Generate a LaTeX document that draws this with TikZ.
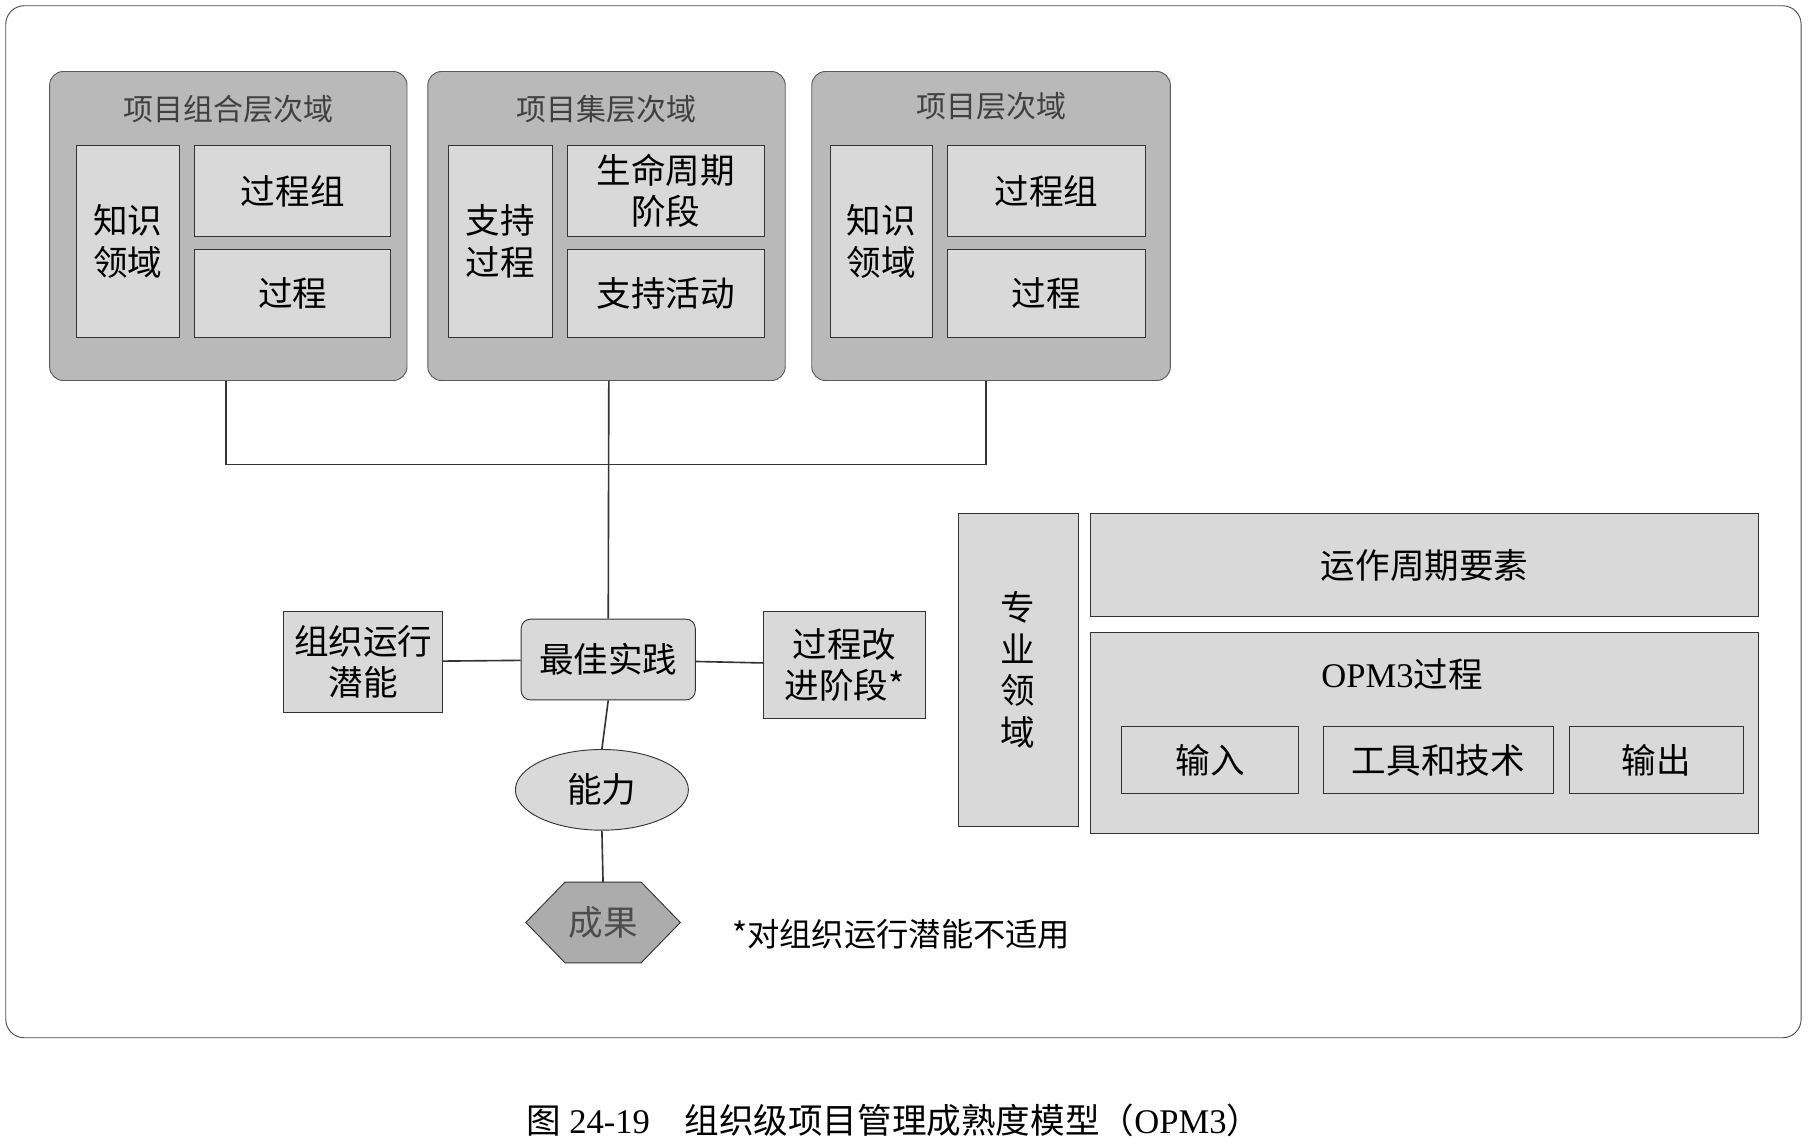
\documentclass[tikz,border=0pt]{standalone}
\usepackage{fontspec}
\setmainfont{Liberation Serif}
\newfontfamily\cjk{Noto Sans CJK SC}
\usetikzlibrary{shapes.geometric}
\begin{document}
\begin{tikzpicture}[x=0.5pt,y=-0.5pt,
 grp/.style={draw=gray!70!black,fill=gray!55,rounded corners=6pt},
 bx/.style={draw=black!80,fill=gray!30,font=\cjk\fontsize{15}{18}\selectfont,align=center,inner sep=0pt},
 ttl/.style={font=\cjk\fontsize{13}{15}\selectfont,text=black!75},
 ln/.style={draw=black!80,line width=0.7pt}]
\useasboundingbox (0,0) rectangle (1568,994);
\draw[black!70,rounded corners=8pt] (5,5) rectangle (1562,900);
% groups
\draw[grp] (43,62) rectangle (353,330); \node[ttl] (ta) at (198,95) {项目组合层次域};
\draw[grp] (371,62) rectangle (681,330); \node[ttl] (tb) at (526,95) {项目集层次域};
\draw[grp] (704,62) rectangle (1015,330); \node[ttl] (tc) at (860,92) {项目层次域};
\node[bx,minimum width=45pt,minimum height=83.5pt] (a1) at (111,209.5) {知识\\领域};
\node[bx,minimum width=85pt,minimum height=39.5pt] (a2) at (254,165.5) {过程组};
\node[bx,minimum width=85pt,minimum height=38.5pt] (a3) at (254,254.5) {过程};
\node[bx,minimum width=45pt,minimum height=83.5pt] (b1) at (434,209.5) {支持\\过程};
\node[bx,minimum width=85.5pt,minimum height=39.5pt] (b2) at (577.5,165.5) {生命周期\\阶段};
\node[bx,minimum width=85.5pt,minimum height=38.5pt] (b3) at (577.5,254.5) {支持活动};
\node[bx,minimum width=44.5pt,minimum height=83.5pt] (c1) at (764.5,209.5) {知识\\领域};
\node[bx,minimum width=85.5pt,minimum height=39.5pt] (c2) at (907.5,165.5) {过程组};
\node[bx,minimum width=85.5pt,minimum height=38.5pt] (c3) at (907.5,254.5) {过程};
\coordinate (ga) at (196,330); \coordinate (gb) at (528,330); \coordinate (gc) at (855,330);
% middle
\node[bx,rounded corners=4pt,minimum width=75.5pt,minimum height=35pt] (bp) at (527.5,572) {最佳实践};
\node[bx,minimum width=69pt,minimum height=44pt] (op) at (315,574) {组织运行\\潜能};
\node[bx,minimum width=70.5pt,minimum height=46.5pt] (pi) at (732.5,576.5) {过程改\\进阶段*};
\node[bx,ellipse,minimum width=75pt,minimum height=35pt] (cap) at (522,685) {能力};
\coordinate (rtop) at (523,765);
\draw[draw=black!80,fill=gray!65] (456,800) -- (490,765) -- (556,765) -- (590,800) -- (556,835) -- (490,835) -- cycle;
\node[font=\cjk\fontsize{15}{17}\selectfont,text=black!70] (res) at (523,800) {成果};
\node[font=\cjk\fontsize{14}{16}\selectfont,anchor=west] (note) at (628,810) {*对组织运行潜能不适用};
\draw[ln] (ga) -- (196,403) -- (855,403) -- (gc);
\draw[ln] (gb) -- (bp.north);
\draw[ln] (op) -- (bp); \draw[ln] (bp) -- (pi);
\draw[ln] (bp.south) -- (cap.north);
\draw[ln] (cap.south) -- (rtop);
% right
\node[bx,minimum width=52pt,minimum height=136pt] (zy) at (883,581) {专\\业\\领\\域};
\node[bx,minimum width=289.5pt,minimum height=45pt] (yz) at (1235.5,490) {运作周期要素};
\node[bx,minimum width=289.5pt,minimum height=87pt,anchor=north] (opm) at (1235.5,548) {};
\node[font=\fontsize{15}{17}\selectfont] (opmt) at (1216,585) {OPM3{\cjk 过程}};
\node[bx,minimum width=76.5pt,minimum height=29pt] (in) at (1049.5,659) {输入};
\node[bx,minimum width=99.5pt,minimum height=29pt] (tt) at (1247.5,659) {工具和技术};
\node[bx,minimum width=75.5pt,minimum height=29pt] (out) at (1436.5,659) {输出};
\node[font=\fontsize{15}{17}\selectfont] (cap2) at (775,972) {{\cjk 图} 24-19\quad{\cjk 组织级项目管理成熟度模型（}OPM3{\cjk ）}};
\end{tikzpicture}
\end{document}
